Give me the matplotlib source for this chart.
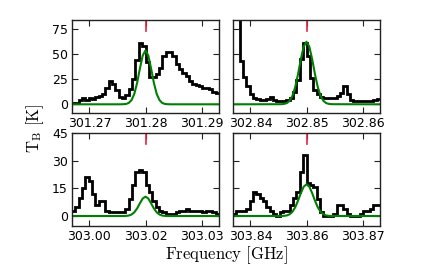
import numpy as np
import matplotlib
matplotlib.use("Agg")
import matplotlib.pyplot as plt

plt.rcParams['mathtext.fontset'] = 'cm'

# ---- dados ----
# frequencia central de cada painel (GHz)
centros = [301.280, 302.850, 303.015, 303.855]
meia_largura = 0.0131   # GHz, metade da janela
n_canais = 44

# espectros observados (K), 44 canais por painel
tb_301280 = [1, 1, 4, 6, 4, 6, 5, 7, 8, 10, 16, 23, 20, 14, 7, 6, 9, 15, 25, 44, 61, 58,
             42, 27, 27, 30, 36, 48, 52, 52, 48, 40, 35, 31, 28, 23, 20, 19, 18, 16, 16, 15, 12, 11]
tb_302850 = [120, 100, 43, 27, 18, 10, 6, 5, 4, 4, 5, 7, 4, 3, 3, 3, 4, 6, 12, 24, 45, 61,
             48, 26, 14, 10, 7, 6, 6, 6, 6, 8, 11, 18, 10, 4, 3, 3, 3, 3, 3, 3, 4, 5]
tb_303015 = [3, 5, 10, 15, 21, 19, 12, 6, 8, 8, 3, 2, 2, 2, 2, 2, 4, 9, 17, 24, 25, 24,
             17, 13, 8, 5, 3, 2, 1, 1, 1, 2, 3, 3, 4, 3, 3, 3, 3, 2, 3, 3, 2, 1]
tb_303855 = [1, 3, 3, 3, 4, 8, 13, 12, 10, 8, 5, 3, 1, 0, 2, 3, 3, 6, 10, 13, 24, 33,
             18, 17, 16, 9, 2, 0, 0, 0, 1, 6, 6, 4, 1, 0, 0, 0, 1, 3, 3, 4, 6, 6]

# modelo (linha verde): deslocamento em MHz e valores lidos
desloc_mhz = [-13.1, -4.5, -4, -3.5, -3, -2.5, -2, -1.5, -1, -0.5, 0,
              0.5, 1, 1.5, 2, 2.5, 3, 3.5, 4, 4.5, 13.1]
mod_301280 = [0, 0, 0.1, 0.3, 1.3, 4.1, 10.3, 21.3, 35.7, 48.7, 54,
              48.7, 35.7, 21.3, 10.3, 4.1, 1.3, 0.3, 0.1, 0, 0]
mod_302850 = [0, 0.1, 0.4, 1.2, 3.5, 8.5, 17.4, 30.4, 45.4, 57.7, 62.5,
              57.7, 45.4, 30.4, 17.4, 8.5, 3.5, 1.2, 0.4, 0.1, 0]
mod_303015 = [0, 0, 0, 0.07, 0.25, 0.8, 2.0, 4.1, 6.9, 9.5, 10.5,
              9.5, 6.9, 4.1, 2.0, 0.8, 0.25, 0.07, 0, 0, 0]
mod_303855 = [0, 0.03, 0.1, 0.33, 0.96, 2.3, 4.8, 8.4, 12.5, 15.9, 17.2,
              15.9, 12.5, 8.4, 4.8, 2.3, 0.96, 0.33, 0.1, 0.03, 0]

rotulos_x = [["301.27", "301.28", "301.29"],
             ["302.84", "302.85", "302.86"],
             ["303.00", "303.02", "303.03"],
             ["303.84", "303.86", "303.87"]]

yticks_cima = [0, 25, 50, 75]
yticks_baixo = [0, 15, 30, 45]

espectros = [tb_301280, tb_302850, tb_303015, tb_303855]
modelos = [mod_301280, mod_302850, mod_303015, mod_303855]

# ---- figura ----
fig = plt.figure(figsize=(4.37, 2.73), dpi=100)

larg = 147 / 437
alt = 93 / 273
posicoes = [(72 / 437, 1 - 113 / 273), (233 / 437, 1 - 113 / 273),
            (72 / 437, 1 - 226 / 273), (233 / 437, 1 - 226 / 273)]

for i in range(4):
    ax = fig.add_axes([posicoes[i][0], posicoes[i][1], larg, alt])
    f0 = centros[i]
    bordas = np.linspace(f0 - meia_largura, f0 + meia_largura, n_canais + 1)
    ax.stairs(espectros[i], bordas, baseline=None, color='k', lw=2)
    fx = f0 + np.array(desloc_mhz) / 1000.0
    ax.plot(fx, modelos[i], color='g', lw=1.5)
    ax.axvline(f0, ymin=0.88, ymax=1.0, color='#e8203c', lw=1.2)

    ax.set_xlim(f0 - meia_largura, f0 + meia_largura)
    ax.set_xticks([f0 - 0.01, f0, f0 + 0.01])
    ax.set_xticklabels(rotulos_x[i])
    if i < 2:
        ax.set_ylim(-8.7, 84.3)
        ax.set_yticks(yticks_cima)
    else:
        ax.set_ylim(-5.4, 45)
        ax.set_yticks(yticks_baixo)
    if i % 2 == 1:
        ax.set_yticklabels([])

    ax.tick_params(direction='in', top=True, right=True, length=4, width=0.8,
                   labelsize=9, pad=3, colors='#222222', labelcolor='k')
    for sp in ax.spines.values():
        sp.set_linewidth(1.0)
        sp.set_color('#222222')

fig.text(226 / 437, 1 - 255 / 273, r'$\mathrm{Frequency\ [GHz]}$', fontsize=12,
         ha='center', va='center')
fig.text(35 / 437, 1 - 128 / 273, r'$\mathrm{T_B\ [K]}$', fontsize=12,
         ha='center', va='center', rotation=90)

fig.savefig("out.png", dpi=100)
